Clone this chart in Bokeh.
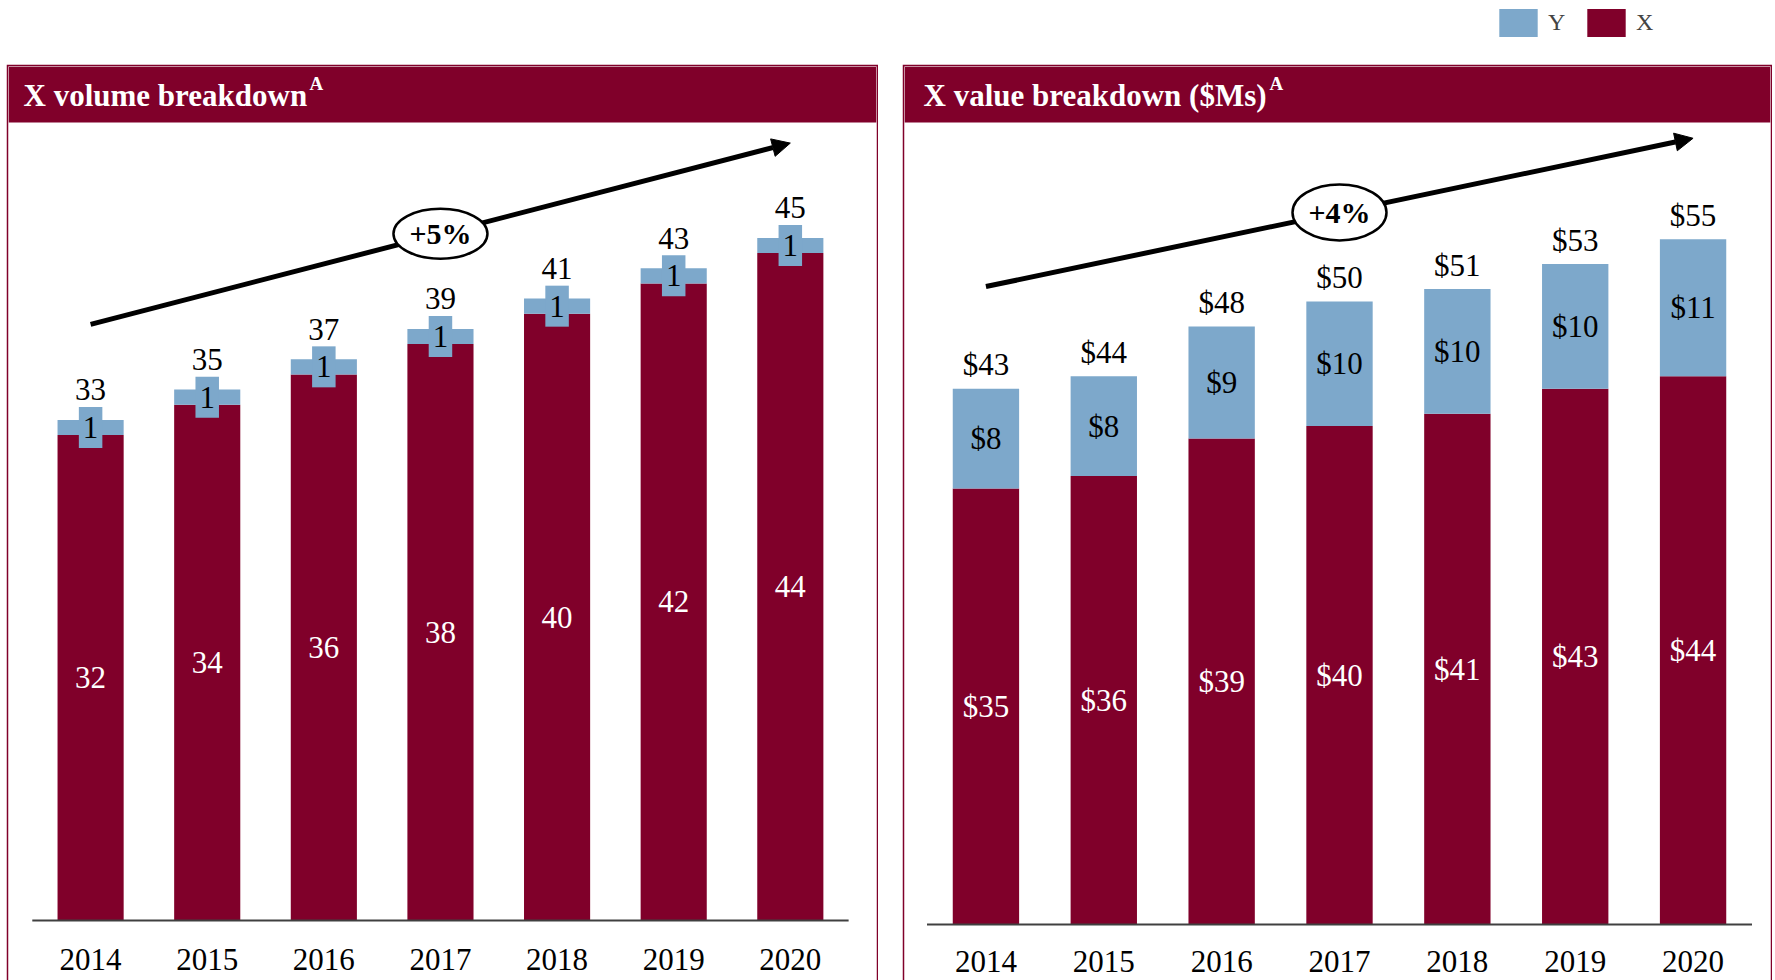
from bokeh.plotting import figure
from bokeh.models import (ColumnDataSource, Range1d, BoxAnnotation, Label, Arrow,
                          NormalHead, Legend, LegendItem, Spacer)
from bokeh.layouts import row, column
from bokeh.core.properties import value
from bokeh.embed import file_html
from bokeh.resources import INLINE

# ---------------- data ----------------
years = [2014, 2015, 2016, 2017, 2018, 2019, 2020]
vol_x = [32, 34, 36, 38, 40, 42, 44]
vol_y = [1, 1, 1, 1, 1, 1, 1]
val_x = [35, 36, 39, 40, 41, 43, 44]
val_y = [8, 8, 9, 10, 10, 10, 11]
vol_title = "X volume breakdown"
val_title = "X value breakdown ($Ms)"
vol_growth = "+5%"
val_growth = "+4%"
series_names = ["Y", "X"]

RED = "#80002A"
BLUE = "#7DA8CB"
FONT = "Liberation Serif"


def panel(xs, ys, prefix, title, growth, width, x_rng, y_rng, hdr_bottom,
          title_dx, sup_dx, bar_w, arrow_y, year_off, tot_off, ell_h):
    totals = [a + b for a, b in zip(xs, ys)]
    src = ColumnDataSource(dict(
        year=years, x=xs, y=ys, total=totals,
        xmid=[a / 2 for a in xs],
        ymid=[a + b / 2 for a, b in zip(xs, ys)],
        xlab=[f"{prefix}{v}" for v in xs],
        ylab=[f"{prefix}{v}" for v in ys],
        tlab=[f"{prefix}{v}" for v in totals],
        ylbl=[str(v) for v in years],
        zero=[0] * len(years),
    ))
    p = figure(width=width, height=916, output_backend="svg", toolbar_location=None,
               x_axis_location=None, y_axis_location=None,
               x_range=Range1d(*x_rng), y_range=Range1d(*y_rng))
    p.min_border_left = 2
    p.min_border_right = 2
    p.min_border_top = 2
    p.min_border_bottom = 0
    p.border_fill_color = RED
    p.background_fill_color = "white"
    p.outline_line_color = None
    p.grid.visible = False

    # header band
    p.add_layout(BoxAnnotation(bottom=hdr_bottom, fill_color=RED, fill_alpha=1,
                               line_color=None))
    p.add_layout(Label(x=x_rng[0], y=hdr_bottom, x_offset=title_dx, y_offset=27,
                       text=title, text_color="white", text_font=FONT,
                       text_font_style="bold", text_font_size="31px",
                       text_baseline="middle", level="overlay"))
    p.add_layout(Label(x=x_rng[0], y=hdr_bottom, x_offset=sup_dx, y_offset=39,
                       text="A", text_color="white", text_font=FONT,
                       text_font_style="bold", text_font_size="19px",
                       text_baseline="middle", level="overlay"))

    # stacked bars
    p.vbar_stack(["x", "y"], x="year", width=bar_w, color=[RED, BLUE],
                 line_color=None, source=src)

    # baseline
    p.segment(x0=[years[0] - 0.5], y0=[0], x1=[years[-1] + 0.5], y1=[0],
              line_color="#404040", line_width=2)

    common = dict(text_font=value(FONT), text_font_size="31px",
                  text_align="center", text_baseline="middle", source=src)
    # X values (white, inside red)
    p.text(x="year", y="xmid", text="xlab", text_color="white", **common)
    # Y values
    if prefix == "":
        p.text(x="year", y="ymid", text="ylab", text_color="black",
               background_fill_color=BLUE,
               padding=dict(left=4, right=4, top=10, bottom=10), **common)
    else:
        p.text(x="year", y="ymid", text="ylab", text_color="black", **common)
    # totals
    p.text(x="year", y="total", text="tlab", text_color="black",
           y_offset=tot_off, **common)
    # years
    p.text(x="year", y="zero", text="ylbl", text_color="black",
           y_offset=year_off, **common)

    # growth arrow
    p.add_layout(Arrow(x_start=years[0], y_start=arrow_y[0], x_end=years[-1],
                       y_end=arrow_y[1], line_width=5, line_color="black",
                       end=NormalHead(size=18, fill_color="black",
                                      line_color="black")))
    mx = (years[0] + years[-1]) / 2
    my = (arrow_y[0] + arrow_y[1]) / 2
    p.ellipse(x=[mx], y=[my], width=94, height=ell_h, width_units="screen",
              height_units="screen", fill_color="white", line_color="black",
              line_width=2.5, level="overlay")
    p.text(x=[mx], y=[my], text=[growth], text_font=value(FONT),
           text_font_style="bold", text_font_size="30px", text_align="center",
           text_baseline="middle", text_color="black", level="overlay")
    return p


left = panel(vol_x, vol_y, "", vol_title, vol_growth, 872,
             (2013.296, 2020.739), (-3.955, 56.3), 52.6, 15, 301, 0.567,
             (39.3, 51.25), 39, -30, 50)
right = panel(val_x, val_y, "$", val_title, val_growth, 870,
              (2013.309, 2020.657), (-4.494, 68.86), 64.37, 19, 365, 0.563,
              (51.2, 63.1), 37, -24, 56)

# legend strip
leg = figure(width=1775, height=64, output_backend="svg", toolbar_location=None,
             x_axis_location=None, y_axis_location=None,
             x_range=Range1d(0, 1), y_range=Range1d(0, 1))
leg.min_border = 0
leg.outline_line_color = None
leg.grid.visible = False
# swatch renderers: their one point lies outside the visible range
rb = leg.vbar(x=[years[0]], top=[val_y[0]], width=0.1, fill_color=BLUE, line_color=None)
rr = leg.vbar(x=[years[0]], top=[val_x[0]], width=0.1, fill_color=RED, line_color=None)
legend = Legend(items=[LegendItem(label=series_names[0], renderers=[rb]),
                       LegendItem(label=series_names[1], renderers=[rr])],
                orientation="horizontal", location=(1494, 24),
                glyph_width=48, glyph_height=35, label_standoff=6, spacing=14,
                padding=0, margin=0, border_line_color=None,
                background_fill_alpha=0, label_text_font=FONT,
                label_text_font_size="24px", label_height=35)
leg.add_layout(legend)

layout = column(leg, row(Spacer(width=6), left, Spacer(width=24), right))
open("out.html", "w").write(file_html(layout, INLINE))
